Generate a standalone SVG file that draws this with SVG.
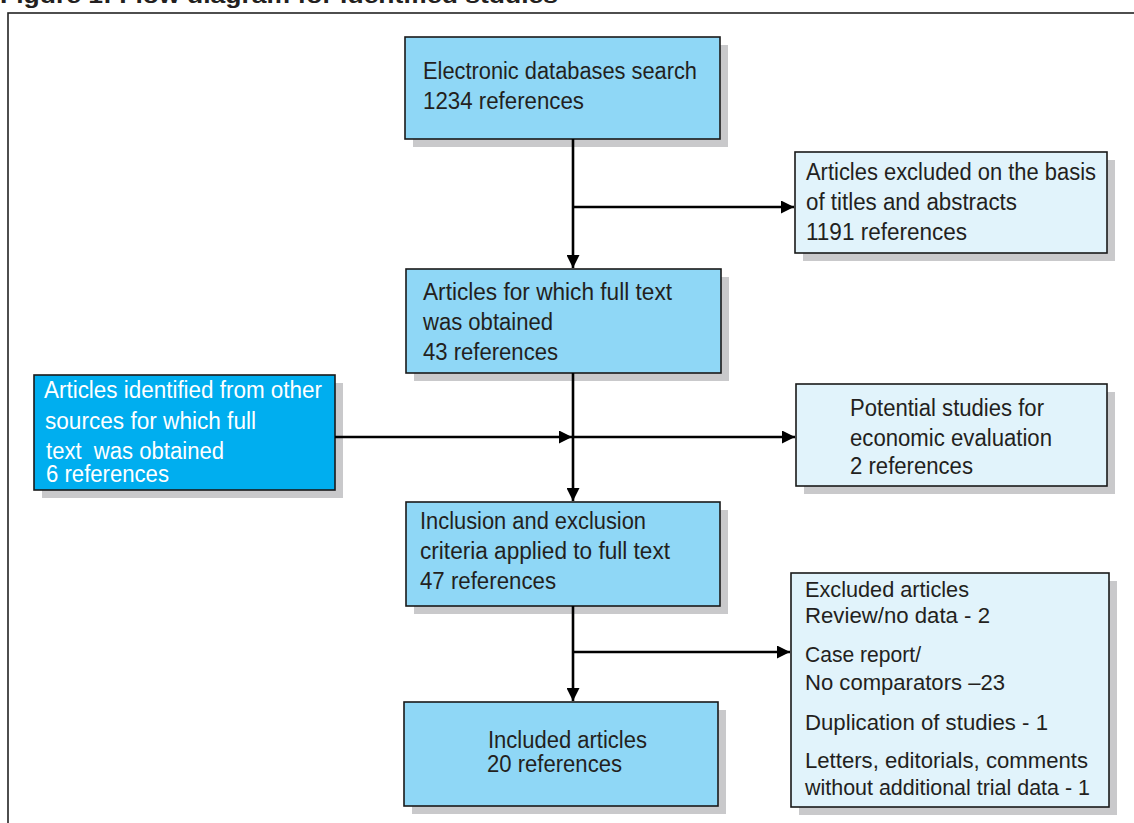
<svg xmlns="http://www.w3.org/2000/svg" width="1134" height="823" viewBox="0 0 1134 823">
<style>
text{font-family:"Liberation Sans",Arial,sans-serif;font-size:23px;fill:#231f20}
.w{fill:#ffffff}
.s{font-size:21.5px}
.box{stroke:#1a1a1a;stroke-width:1.6}
.main{fill:#8fd7f6}
.light{fill:#e1f3fb}
.dark{fill:#00aeef}
.sh{fill:#c9c9cb}
.ln{stroke:#000;stroke-width:2.6;fill:none}
</style>
<defs>
<marker id="ah" viewBox="0 0 10 10" refX="10" refY="5" markerWidth="5" markerHeight="5" orient="auto" markerUnits="strokeWidth">
<path d="M0,0 L10,5 L0,10 Z" fill="#000"/>
</marker>
</defs>
<rect width="1134" height="823" fill="#fff"/>
<text x="0" y="3" textLength="558" lengthAdjust="spacingAndGlyphs" style="font-weight:bold;font-size:22px">Figure 1: Flow diagram for identified studies</text>
<rect x="8" y="13" width="1140" height="830" fill="none" stroke="#222" stroke-width="1.6"/>

<g id="n1">
<rect class="sh" x="413" y="45" width="315" height="102"/>
<rect class="box main" x="405" y="37" width="315" height="102"/>
<text x="423" y="79" textLength="274" lengthAdjust="spacingAndGlyphs">Electronic databases search</text>
<text x="423" y="109" textLength="161" lengthAdjust="spacingAndGlyphs">1234 references</text>
</g>
<g id="n2">
<rect class="sh" x="803" y="160" width="312" height="101"/>
<rect class="box light" x="795" y="152" width="312" height="101"/>
<text x="806" y="180" textLength="290" lengthAdjust="spacingAndGlyphs">Articles excluded on the basis</text>
<text x="806" y="210" textLength="211" lengthAdjust="spacingAndGlyphs">of titles and abstracts</text>
<text x="806" y="240" textLength="161" lengthAdjust="spacingAndGlyphs">1191 references</text>
</g>
<g id="n3">
<rect class="sh" x="414" y="277" width="315" height="104"/>
<rect class="box main" x="406" y="269" width="315" height="104"/>
<text x="423" y="300" textLength="249" lengthAdjust="spacingAndGlyphs">Articles for which full text</text>
<text x="423" y="330" textLength="130" lengthAdjust="spacingAndGlyphs">was obtained</text>
<text x="423" y="360" textLength="135" lengthAdjust="spacingAndGlyphs">43 references</text>
</g>
<g id="n4">
<rect class="sh" x="42" y="383" width="301" height="115"/>
<rect class="box dark" x="34" y="375" width="301" height="115"/>
<text class="w" x="44" y="398" textLength="278" lengthAdjust="spacingAndGlyphs">Articles identified from other</text>
<text class="w" x="45" y="429" textLength="211" lengthAdjust="spacingAndGlyphs">sources for which full</text>
<text class="w" x="46" y="459" textLength="178" lengthAdjust="spacingAndGlyphs" xml:space="preserve">text  was obtained</text>
<text class="w" x="46" y="482" textLength="123" lengthAdjust="spacingAndGlyphs">6 references</text>
</g>
<g id="n5">
<rect class="sh" x="804" y="392" width="311" height="102"/>
<rect class="box light" x="796" y="384" width="311" height="102"/>
<text x="850" y="416" textLength="194" lengthAdjust="spacingAndGlyphs">Potential studies for</text>
<text x="850" y="446" textLength="202" lengthAdjust="spacingAndGlyphs">economic evaluation</text>
<text x="850" y="474" textLength="123" lengthAdjust="spacingAndGlyphs">2 references</text>
</g>
<g id="n6">
<rect class="sh" x="414" y="510" width="314" height="104"/>
<rect class="box main" x="406" y="502" width="314" height="104"/>
<text x="420" y="529" textLength="226" lengthAdjust="spacingAndGlyphs">Inclusion and exclusion</text>
<text x="420" y="559" textLength="250" lengthAdjust="spacingAndGlyphs">criteria applied to full text</text>
<text x="420" y="589" textLength="136" lengthAdjust="spacingAndGlyphs">47 references</text>
</g>
<g id="n7">
<rect class="sh" x="799" y="581" width="318" height="234"/>
<rect class="box light" x="791" y="573" width="318" height="234"/>
<text class="s" x="805" y="597" textLength="164" lengthAdjust="spacingAndGlyphs">Excluded articles</text>
<text class="s" x="805" y="623" textLength="185" lengthAdjust="spacingAndGlyphs">Review/no data - 2</text>
<text class="s" x="805" y="662" textLength="116" lengthAdjust="spacingAndGlyphs">Case report/</text>
<text class="s" x="805" y="690" textLength="200" lengthAdjust="spacingAndGlyphs">No comparators –23</text>
<text class="s" x="805" y="730" textLength="243" lengthAdjust="spacingAndGlyphs">Duplication of studies - 1</text>
<text class="s" x="805" y="768" textLength="283" lengthAdjust="spacingAndGlyphs">Letters, editorials, comments</text>
<text class="s" x="805" y="795" textLength="285" lengthAdjust="spacingAndGlyphs">without additional trial data - 1</text>
</g>
<g id="n8">
<rect class="sh" x="412" y="710" width="314" height="104"/>
<rect class="box main" x="404" y="702" width="314" height="104"/>
<text x="488" y="748" textLength="159" lengthAdjust="spacingAndGlyphs">Included articles</text>
<text x="487" y="772" textLength="135" lengthAdjust="spacingAndGlyphs">20 references</text>
</g>

<g id="connectors">
<line class="ln" x1="573" y1="139" x2="573" y2="268" marker-end="url(#ah)"/>
<line class="ln" x1="573" y1="207" x2="794" y2="207" marker-end="url(#ah)"/>
<line class="ln" x1="573" y1="373" x2="573" y2="501" marker-end="url(#ah)"/>
<line class="ln" x1="335" y1="437" x2="572" y2="437" marker-end="url(#ah)"/>
<line class="ln" x1="573" y1="437" x2="795" y2="437" marker-end="url(#ah)"/>
<line class="ln" x1="573" y1="606" x2="573" y2="701" marker-end="url(#ah)"/>
<line class="ln" x1="573" y1="652" x2="790" y2="652" marker-end="url(#ah)"/>
</g>
</svg>
